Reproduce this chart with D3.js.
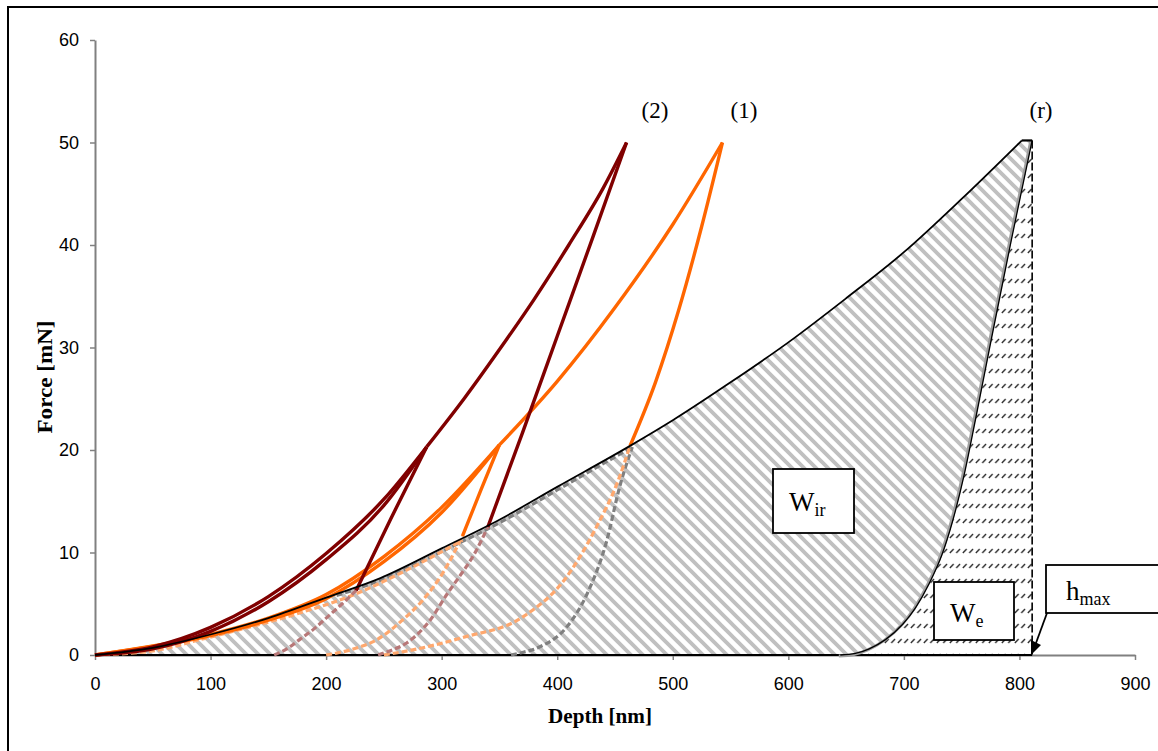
<!DOCTYPE html>
<html>
<head>
<meta charset="utf-8">
<script src="https://cdn.jsdelivr.net/npm/d3@7"></script>
<style>
body { margin: 0; background: #fff; }
svg { display: block; }
.tick text { font-family: "Liberation Sans", Arial, sans-serif; font-size: 18px; fill: #000; }
</style>
</head>
<body>
<svg width="1158" height="751"></svg>
<script>
// [depth nm, force mN]
var xTicks = [0, 100, 200, 300, 400, 500, 600, 700, 800, 900];
var yTicks = [0, 10, 20, 30, 40, 50, 60];

// reference test (r)
var refLoad = [[0,0],[50,0.7],[100,2.0],[150,3.6],[200,5.6],[247,7.5],[300,10.4],[350,13.2],[400,16.4],[463,20.4],[500,22.9],[550,26.6],[600,30.5],[650,34.8],[700,39.3],[750,44.5],[802,50.2]];
var refUnload = [[811,50.2],[793,40.5],[776,31],[762,23],[752,17.5],[742,13],[733,9.8],[722,7.0],[710,4.6],[699,3.0],[684,1.5],[670,0.6],[658,0.15],[645,0]];
var refReload = [[209,5.8],[247,7.3],[300,10.1],[350,12.9],[400,16.1],[465,20.3]];
var refUnload20 = [[465,20.3],[454,16.4],[443,11.2],[426,6.0],[408,2.7],[385,0.8],[368,0.2],[360,0]];
var hMax = 811;

// test (1)
var load1a = [[0,0],[100,2.0],[150,3.6],[200,5.9],[250,9.6],[300,14.4],[350,20.5]];
var load1b = [[0,0],[100,1.9],[150,3.4],[200,5.5],[250,9.1],[300,13.9],[350,20.5]];
var reload1 = [[350,20.5],[400,26.7],[450,33.9],[500,42.0],[543,50]];
var unload1a = [[350,20.5],[334,16.1],[318,11.6]];
var unload1b = [[543,50],[525,41.8],[505,33.6],[485,26.6],[463,20.4]];
var dash1a = [[318,11.6],[301,8.0],[284,5.4],[266,3.4],[244,1.5],[221,0.5],[200,0]];
var dash1b = [[463,20.4],[453,17.1],[434,12.5],[408,7.6],[370,3.7],[318,1.7],[275,0.5],[250,0]];
var dash1c = [[0,0],[50,0.4],[91,1.5],[177,4.1],[220,5.7],[270,8.3],[318,11.2]];

// test (2)
var load2a = [[0,0],[50,0.8],[100,2.7],[150,5.7],[200,9.9],[250,15.2],[287,20.3]];
var load2b = [[0,0],[50,0.6],[100,2.3],[150,5.2],[200,9.3],[250,14.6],[287,20.3]];
var reload2 = [[287,20.3],[320,25.1],[350,29.8],[380,34.7],[410,40.0],[440,45.6],[460,50]];
var unload2a = [[287,20.3],[256,13.3],[226,6.3]];
var unload2b = [[460,50],[430,40.5],[400,31.1],[370,21.7],[340,12.5]];
var dash2a = [[226,6.3],[213,4.9],[201,3.7],[189,2.5],[177,1.5],[166,0.6],[155,0]];
var dash2b = [[340,12.5],[328,9.8],[315,7.6],[305,6.0],[290,3.4],[270,1.2],[255,0.4],[245,0]];

var svg = d3.select("svg");

var x = d3.scaleLinear().domain([0, 900]).range([95, 1135]);
var y = d3.scaleLinear().domain([0, 60]).range([655, 40]);

var line = d3.line()
    .x(function (d) { return x(d[0]); })
    .y(function (d) { return y(d[1]); })
    .curve(d3.curveMonotoneX);

var top0 = refUnload[0];

// patterns
var defs = svg.append("defs");
var pIr = defs.append("pattern")
    .attr("id", "hatchIr").attr("patternUnits", "userSpaceOnUse")
    .attr("width", 12).attr("height", 12);
pIr.append("path")
    .attr("d", "M-3,-3L15,15M-3,9L3,15M9,-3L15,3")
    .attr("stroke", "#c0c0c0").attr("stroke-width", 3.8);

var pE = defs.append("pattern")
    .attr("id", "hatchE").attr("patternUnits", "userSpaceOnUse")
    .attr("width", 6.5).attr("height", 15);
pE.append("path")
    .attr("d", "M0.8,13L4.6,9")
    .attr("stroke", "#222").attr("stroke-width", 1.3);

defs.append("clipPath").attr("id", "hclip")
    .append("rect").attr("x", 1046).attr("y", 565).attr("width", 112).attr("height", 40);

// frame
svg.append("rect")
    .attr("x", 8).attr("y", 7).attr("width", 1170).attr("height", 770)
    .attr("fill", "none").attr("stroke", "#000").attr("stroke-width", 2);

// axes
var gx = svg.append("g")
    .attr("transform", "translate(0," + y(0) + ")")
    .call(d3.axisBottom(x).tickValues(xTicks).tickSize(5).tickSizeOuter(0).tickPadding(17));
var gy = svg.append("g")
    .attr("transform", "translate(" + x(0) + ",0)")
    .call(d3.axisLeft(y).tickValues(yTicks).tickSize(5).tickSizeOuter(0).tickPadding(11));
svg.selectAll(".domain").attr("stroke", "#808080").attr("stroke-width", 2);
svg.selectAll(".tick line").attr("stroke", "#808080").attr("stroke-width", 1.5);
gx.selectAll(".tick text").attr("dy", "0.71em");

svg.append("text")
    .attr("x", 600).attr("y", 723)
    .attr("text-anchor", "middle")
    .attr("font-family", "Liberation Serif, serif").attr("font-weight", "bold").attr("font-size", 21)
    .attr("textLength", 104).attr("lengthAdjust", "spacingAndGlyphs")
    .text("Depth [nm]");
svg.append("text")
    .attr("transform", "translate(52,377) rotate(-90)")
    .attr("text-anchor", "middle")
    .attr("font-family", "Liberation Serif, serif").attr("font-weight", "bold").attr("font-size", 21)
    .attr("textLength", 113).attr("lengthAdjust", "spacingAndGlyphs")
    .text("Force [mN]");

// hatched work areas
var unloadAsc = refUnload.slice().reverse();
var topEdge = "L" + x(top0[0]) + "," + y(top0[1]);
svg.append("path")
    .attr("d", line(refLoad) + topEdge + line(refUnload).replace(/^M/, "L") + "L" + x(0) + "," + y(0) + "Z")
    .attr("fill", "url(#hatchIr)");
svg.append("path")
    .attr("d", line(unloadAsc) + "L" + x(hMax) + "," + y(0) + "Z")
    .attr("fill", "url(#hatchE)");

// x axis black where the data runs along zero
svg.append("line")
    .attr("x1", x(0)).attr("x2", x(hMax)).attr("y1", y(0)).attr("y2", y(0))
    .attr("stroke", "#000").attr("stroke-width", 2);

// h max vertical
svg.append("line")
    .attr("x1", x(hMax)).attr("x2", x(hMax)).attr("y1", y(top0[1])).attr("y2", y(0))
    .attr("stroke", "#000").attr("stroke-width", 1.6).attr("stroke-dasharray", "8,3");

function draw(data, color, width, dash) {
    var p = svg.append("path")
        .attr("d", line(data.slice().sort(function (a, b) { return a[0] - b[0]; })))
        .attr("fill", "none").attr("stroke", color).attr("stroke-width", width)
        .attr("stroke-linejoin", "round");
    if (dash) p.attr("stroke-dasharray", dash);
    return p;
}

// dashed unload/reload parts below the reference curve
draw(refReload, "#808080", 3.2, "6,3");
draw(refUnload20, "#808080", 3.2, "6,3");
draw(dash1c, "#ffa86e", 3.2, "6,3");
draw(dash1a, "#ffa86e", 3.2, "6,3");
draw(dash1b, "#ffa86e", 3.2, "6,3");
draw(dash2a, "#b87878", 3.2, "6,3");
draw(dash2b, "#b87878", 3.2, "6,3");

// test (1)
[load1a, load1b, reload1, unload1a, unload1b].forEach(function (s) { draw(s, "#ff6600", 3.4); });
// test (2)
[load2a, load2b, reload2, unload2a, unload2b].forEach(function (s) { draw(s, "#800000", 3.4); });

// reference
draw(refUnload, "#a0a0a0", 3).attr("transform", "translate(-1.5,1)");
draw(refUnload, "#000", 1.3);
draw(refLoad, "#000", 1.8);
svg.append("line")
    .attr("x1", x(refLoad[refLoad.length - 1][0])).attr("y1", y(refLoad[refLoad.length - 1][1]))
    .attr("x2", x(top0[0])).attr("y2", y(top0[1]))
    .attr("stroke", "#000").attr("stroke-width", 2.2);

// curve labels
var labels = [["(2)", 655], ["(1)", 744], ["(r)", 1041]];
svg.selectAll(".clab").data(labels).enter().append("text")
    .attr("x", function (d) { return d[1]; }).attr("y", 118)
    .attr("text-anchor", "middle")
    .attr("font-family", "Liberation Serif, serif").attr("font-size", 23)
    .text(function (d) { return d[0]; });

// boxes
function box(bx, by, bw, bh) {
    svg.append("rect").attr("x", bx).attr("y", by).attr("width", bw).attr("height", bh)
        .attr("fill", "#fff").attr("stroke", "#000").attr("stroke-width", 1.8);
}
box(773, 469, 81, 64);
box(934, 582, 80, 58);
box(1046, 565, 118, 48);

function sym(tx, ty, main, sub, clip) {
    var t = svg.append("text").attr("x", tx).attr("y", ty)
        .attr("font-family", "Liberation Serif, serif").attr("font-size", 27);
    if (clip) t.attr("clip-path", "url(#hclip)");
    t.append("tspan").text(main);
    t.append("tspan").attr("font-size", 18).attr("dy", 5).text(sub);
}
sym(789, 511, "W", "ir");
sym(950, 622, "W", "e");
sym(1066, 600, "h", "max", true);

// arrow to h max
svg.append("line").attr("x1", 1047).attr("y1", 613).attr("x2", 1036).attr("y2", 643)
    .attr("stroke", "#000").attr("stroke-width", 1.8);
svg.append("path").attr("d", "M1031,655L1031,640L1041,645Z").attr("fill", "#000");
</script>
</body>
</html>
